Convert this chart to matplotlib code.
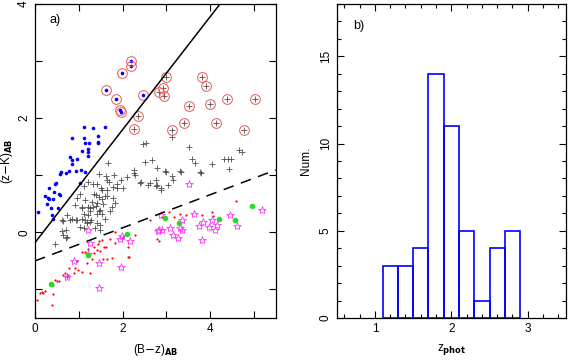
import numpy as np
import matplotlib
matplotlib.use("Agg")
import matplotlib.pyplot as plt
from matplotlib.ticker import MultipleLocator

# panel a) points: (B-z)_AB, (z-K)_AB
blue_x = [1.12, 1.32, 1.60, 0.84, 1.12, 1.43, 1.13, 1.24, 1.44, 1.21, 0.81, 0.84, 0.96, 1.21,
          0.85, 0.59, 0.58, 0.71, 0.77, 0.93, 1.04, 1.15, 0.48, 0.46, 1.02, 0.33, 0.43, 0.55,
          0.58, 0.29, 0.31, 0.40, 0.27, 0.37, 0.52, 0.07, 0.39, 0.41, 1.08, 1.22, 0.23, 1.44]
blue_y = [1.85, 1.83, 1.84, 1.65, 1.66, 1.69, 1.56, 1.56, 1.57, 1.46, 1.32, 1.26, 1.28, 1.34,
          1.19, 1.05, 1.02, 1.04, 1.08, 1.07, 1.09, 1.05, 0.87, 0.85, 0.86, 0.77, 0.71, 0.68,
          0.65, 0.61, 0.58, 0.58, 0.50, 0.43, 0.43, 0.35, 0.30, 0.23, 1.42, 1.40, 0.63, 1.59]

# blue objects that are also circled
blue_circ_x = [2.18, 2.20, 1.98, 1.61, 1.85, 1.95, 1.96, 2.46]
blue_circ_y = [3.01, 2.92, 2.80, 2.50, 2.34, 2.14, 2.10, 2.41]

# circled crosses
cross_circ_x = [2.98, 2.93, 2.84, 2.95, 2.35, 2.25, 3.12, 3.39, 3.52, 3.82, 3.90, 4.00, 4.12,
                4.39, 5.01, 4.76]
cross_circ_y = [2.73, 2.53, 2.45, 2.38, 2.03, 1.81, 1.79, 1.92, 2.21, 2.73, 2.57, 2.25, 1.91,
                2.33, 2.34, 1.79]

cross_x = [2.46, 2.52, 2.68, 1.66, 1.45, 1.62, 1.80, 1.65, 1.97, 2.10, 2.27, 2.29, 2.42, 2.63,
           1.22, 1.32, 1.42, 1.11, 1.53, 1.64, 1.77, 1.87, 2.00, 1.03, 1.34, 1.45, 1.53, 1.60,
           1.79, 0.96, 1.15, 1.30, 1.41, 1.56, 0.92, 1.07, 1.22,
           3.12, 3.51, 3.59, 3.66, 4.05, 4.31, 4.40, 4.48, 4.66, 4.72, 4.42, 3.78, 3.33, 2.99,
           3.12, 3.14, 2.78, 2.77, 3.03, 2.87, 2.77, 2.53,
           1.07, 1.12, 1.26, 1.33, 1.45, 1.52, 1.75, 0.73, 0.84, 0.96, 1.07, 1.18, 1.28, 1.41,
           1.49, 1.60, 1.36, 1.22, 0.61, 0.65, 0.73, 0.70, 0.46, 1.11, 1.49,
           1.68, 1.87, 1.50, 1.40, 1.64, 1.83, 1.40, 1.49, 1.72, 1.26, 0.80, 0.93, 1.15, 1.19,
           0.64, 1.03, 1.26, 0.61, 0.71, 1.41, 2.39, 2.59, 2.78, 2.87, 2.27, 2.97, 3.32, 3.77]
cross_y = [1.54, 1.23, 1.27, 1.22, 1.03, 0.99, 1.01, 0.91, 0.92, 0.97, 1.09, 1.00, 0.88, 0.87,
           0.88, 0.85, 0.85, 0.81, 0.75, 0.75, 0.79, 0.85, 0.78, 0.68, 0.67, 0.62, 0.59, 0.63,
           0.61, 0.61, 0.56, 0.53, 0.51, 0.50, 0.48, 0.45, 0.44,
           1.67, 1.50, 1.28, 1.22, 1.19, 1.28, 1.28, 1.28, 1.45, 1.40, 1.11, 1.04, 1.06, 1.06,
           0.99, 0.91, 1.12, 0.91, 0.83, 0.75, 0.81, 1.56,
           0.43, 0.33, 0.42, 0.45, 0.37, 0.33, 0.45, 0.30, 0.24, 0.21, 0.24, 0.19, 0.22, 0.16,
           0.13, 0.24, 0.07, 0.31, 0.21, -0.05, -0.08, -0.10, -0.21, 0.07, 0.04,
           0.88, 0.77, 0.77, 0.66, 0.63, 0.51, 0.46, 0.40, 0.37, 0.37, 0.22, 0.22, 0.22, 0.16,
           0.20, 0.10, 0.18, 0.03, 0.04, 0.33, 0.87, 0.83, 0.83, 0.77, 1.04, 1.07, 1.07, 1.05]

red_x = [2.63, 1.83, 1.72, 2.29, 2.00, 1.54, 1.62, 1.58, 1.45, 1.41, 1.49, 1.43, 1.34, 1.22,
         1.34, 1.07, 1.15, 1.64, 1.56, 1.76, 2.14, 1.83, 1.30, 1.18, 0.96, 0.92, 0.99, 1.07,
         0.90, 1.25, 0.77, 0.69, 0.65, 0.73, 0.76, 0.54, 0.46, 0.42, 0.50, 0.16, 0.19, 0.23,
         0.40, 0.04, 0.39, 0.12, 4.59, 3.05, 3.81, 3.44, 3.30, 3.18, 2.90, 4.07, 2.78, 2.82,
         4.04, 2.13, 2.13]
red_y = [0.21, 0.01, -0.11, -0.05, -0.08, -0.13, -0.25, -0.25, -0.16, -0.31, -0.32, -0.20,
         -0.25, -0.29, -0.37, -0.34, -0.34, -0.46, -0.47, -0.45, -0.43, -0.19, -0.46, -0.54,
         -0.51, -0.62, -0.66, -0.70, -0.72, -0.72, -0.63, -0.72, -0.75, -0.78, -0.75, -0.86,
         -0.83, -0.92, -0.85, -1.05, -1.06, -1.03, -1.08, -1.18, -1.27, -1.06, 0.55, 0.36,
         0.30, 0.31, 0.32, 0.27, 0.27, 0.28, -0.12, -0.15, 0.36, -0.25, -0.44]

green_x = [0.37, 1.22, 2.10, 2.96, 3.28, 4.21, 4.56, 4.96]
green_y = [-0.90, -0.40, -0.02, 0.26, 0.16, 0.23, 0.21, 0.46]

star_x = [3.52, 5.18, 4.45, 4.62, 4.15, 4.11, 3.98, 3.83, 3.75, 3.64, 4.05, 3.35, 3.31, 3.36,
          3.26, 3.16, 3.07, 2.84, 2.90, 2.80, 3.80, 2.17, 1.95, 1.98, 1.26, 1.20, 0.88, 1.20,
          1.45, 1.96, 0.73, 1.45, 2.87]
star_y = [0.84, 0.40, 0.30, 0.11, 0.13, 0.05, 0.10, 0.19, 0.12, 0.33, 0.21, 0.21, 0.07, 0.05,
          -0.10, -0.04, 0.07, 0.04, 0.05, 0.03, -0.13, -0.16, -0.11, -0.06, -0.19, 0.04, -0.51,
          -0.38, -0.53, -0.60, -0.78, -0.98, 0.30]

# the two dividing lines: (slope, intercept)
solid_line = (0.99, -0.18)
dashed_line = (0.29, -0.50)

# panel b) histogram of z_phot
bin_edges = [1.1, 1.3, 1.5, 1.7, 1.9, 2.1, 2.3, 2.5, 2.7, 2.9]
counts = [3, 3, 4, 14, 11, 5, 1, 4, 5]

plt.rcParams['font.family'] = ['Liberation Sans', 'DejaVu Sans']
plt.rcParams['font.size'] = 8.5

fig = plt.figure(figsize=(5.68, 3.62), dpi=100)
ax1 = fig.add_axes([35 / 568, 1 - 318 / 362, 241 / 568, 314 / 362])
ax2 = fig.add_axes([336.7 / 568, 1 - 318 / 362, 229.3 / 568, 314 / 362])

# panel a
ax1.plot(cross_x, cross_y, '+', color='#505050', ms=5, mew=0.6)
ax1.plot(cross_circ_x, cross_circ_y, '+', color='#505050', ms=5, mew=0.6)
ax1.plot(blue_x, blue_y, 'o', color='blue', ms=2.6, mew=0)
ax1.plot(blue_circ_x, blue_circ_y, 'o', color='blue', ms=2.6, mew=0)
ax1.plot(blue_circ_x + cross_circ_x, blue_circ_y + cross_circ_y, 'o', mfc='none',
         mec='#ee5555', ms=7, mew=0.7)
ax1.plot(red_x, red_y, 'o', color='red', ms=1.6, mew=0)
ax1.plot(star_x, star_y, '*', mfc='none', mec='#ff33ff', ms=6, mew=0.6)
ax1.plot(green_x, green_y, 'o', color='#22dd22', ms=4, mew=0)

xl = np.array([0, 5.5])
ax1.plot(xl, solid_line[0] * xl + solid_line[1], '-', color='black', lw=1.1)
ax1.plot(xl, dashed_line[0] * xl + dashed_line[1], '--', color='black', lw=1.1,
         dashes=(7, 5))

ax1.set_xlim(0, 5.5)
ax1.set_ylim(-1.5, 4)
ax1.xaxis.set_major_locator(MultipleLocator(2))
ax1.xaxis.set_minor_locator(MultipleLocator(1))
ax1.yaxis.set_major_locator(MultipleLocator(2))
ax1.yaxis.set_minor_locator(MultipleLocator(1))
ax1.set_xlabel(r'(B$-$z)$_{\mathbf{AB}}$', labelpad=5)
ax1.set_ylabel(r'(z$-$K)$_{\mathbf{AB}}$', labelpad=2)
ax1.text(0.06, 0.94, 'a)', transform=ax1.transAxes, fontsize=9)

# panel b: each bin drawn as its own open box
ax2.bar(bin_edges[:-1], counts, width=np.diff(bin_edges), align='edge', fill=False,
        edgecolor='blue', lw=1.2)
ax2.set_xlim(0.5, 3.5)
ax2.set_ylim(0, 18)
ax2.xaxis.set_major_locator(MultipleLocator(1))
ax2.xaxis.set_minor_locator(MultipleLocator(0.2))
ax2.yaxis.set_major_locator(MultipleLocator(5))
ax2.yaxis.set_minor_locator(MultipleLocator(1))
ax2.set_xlabel(r'z$_{\mathbf{phot}}$', labelpad=5)
ax2.set_ylabel('Num.', labelpad=6)
ax2.text(0.07, 0.92, 'b)', transform=ax2.transAxes, fontsize=9)

for ax in (ax1, ax2):
    ax.tick_params(which='both', direction='in', top=True, right=True, width=0.8)
    ax.tick_params(which='major', length=5)
    ax.tick_params(which='minor', length=3)
    for lab in ax.get_yticklabels():
        lab.set_rotation(90)
        lab.set_va('center')
    for s in ax.spines.values():
        s.set_linewidth(0.9)

ax1.tick_params(which='minor', length=5)

fig.savefig('out.png', dpi=100)
